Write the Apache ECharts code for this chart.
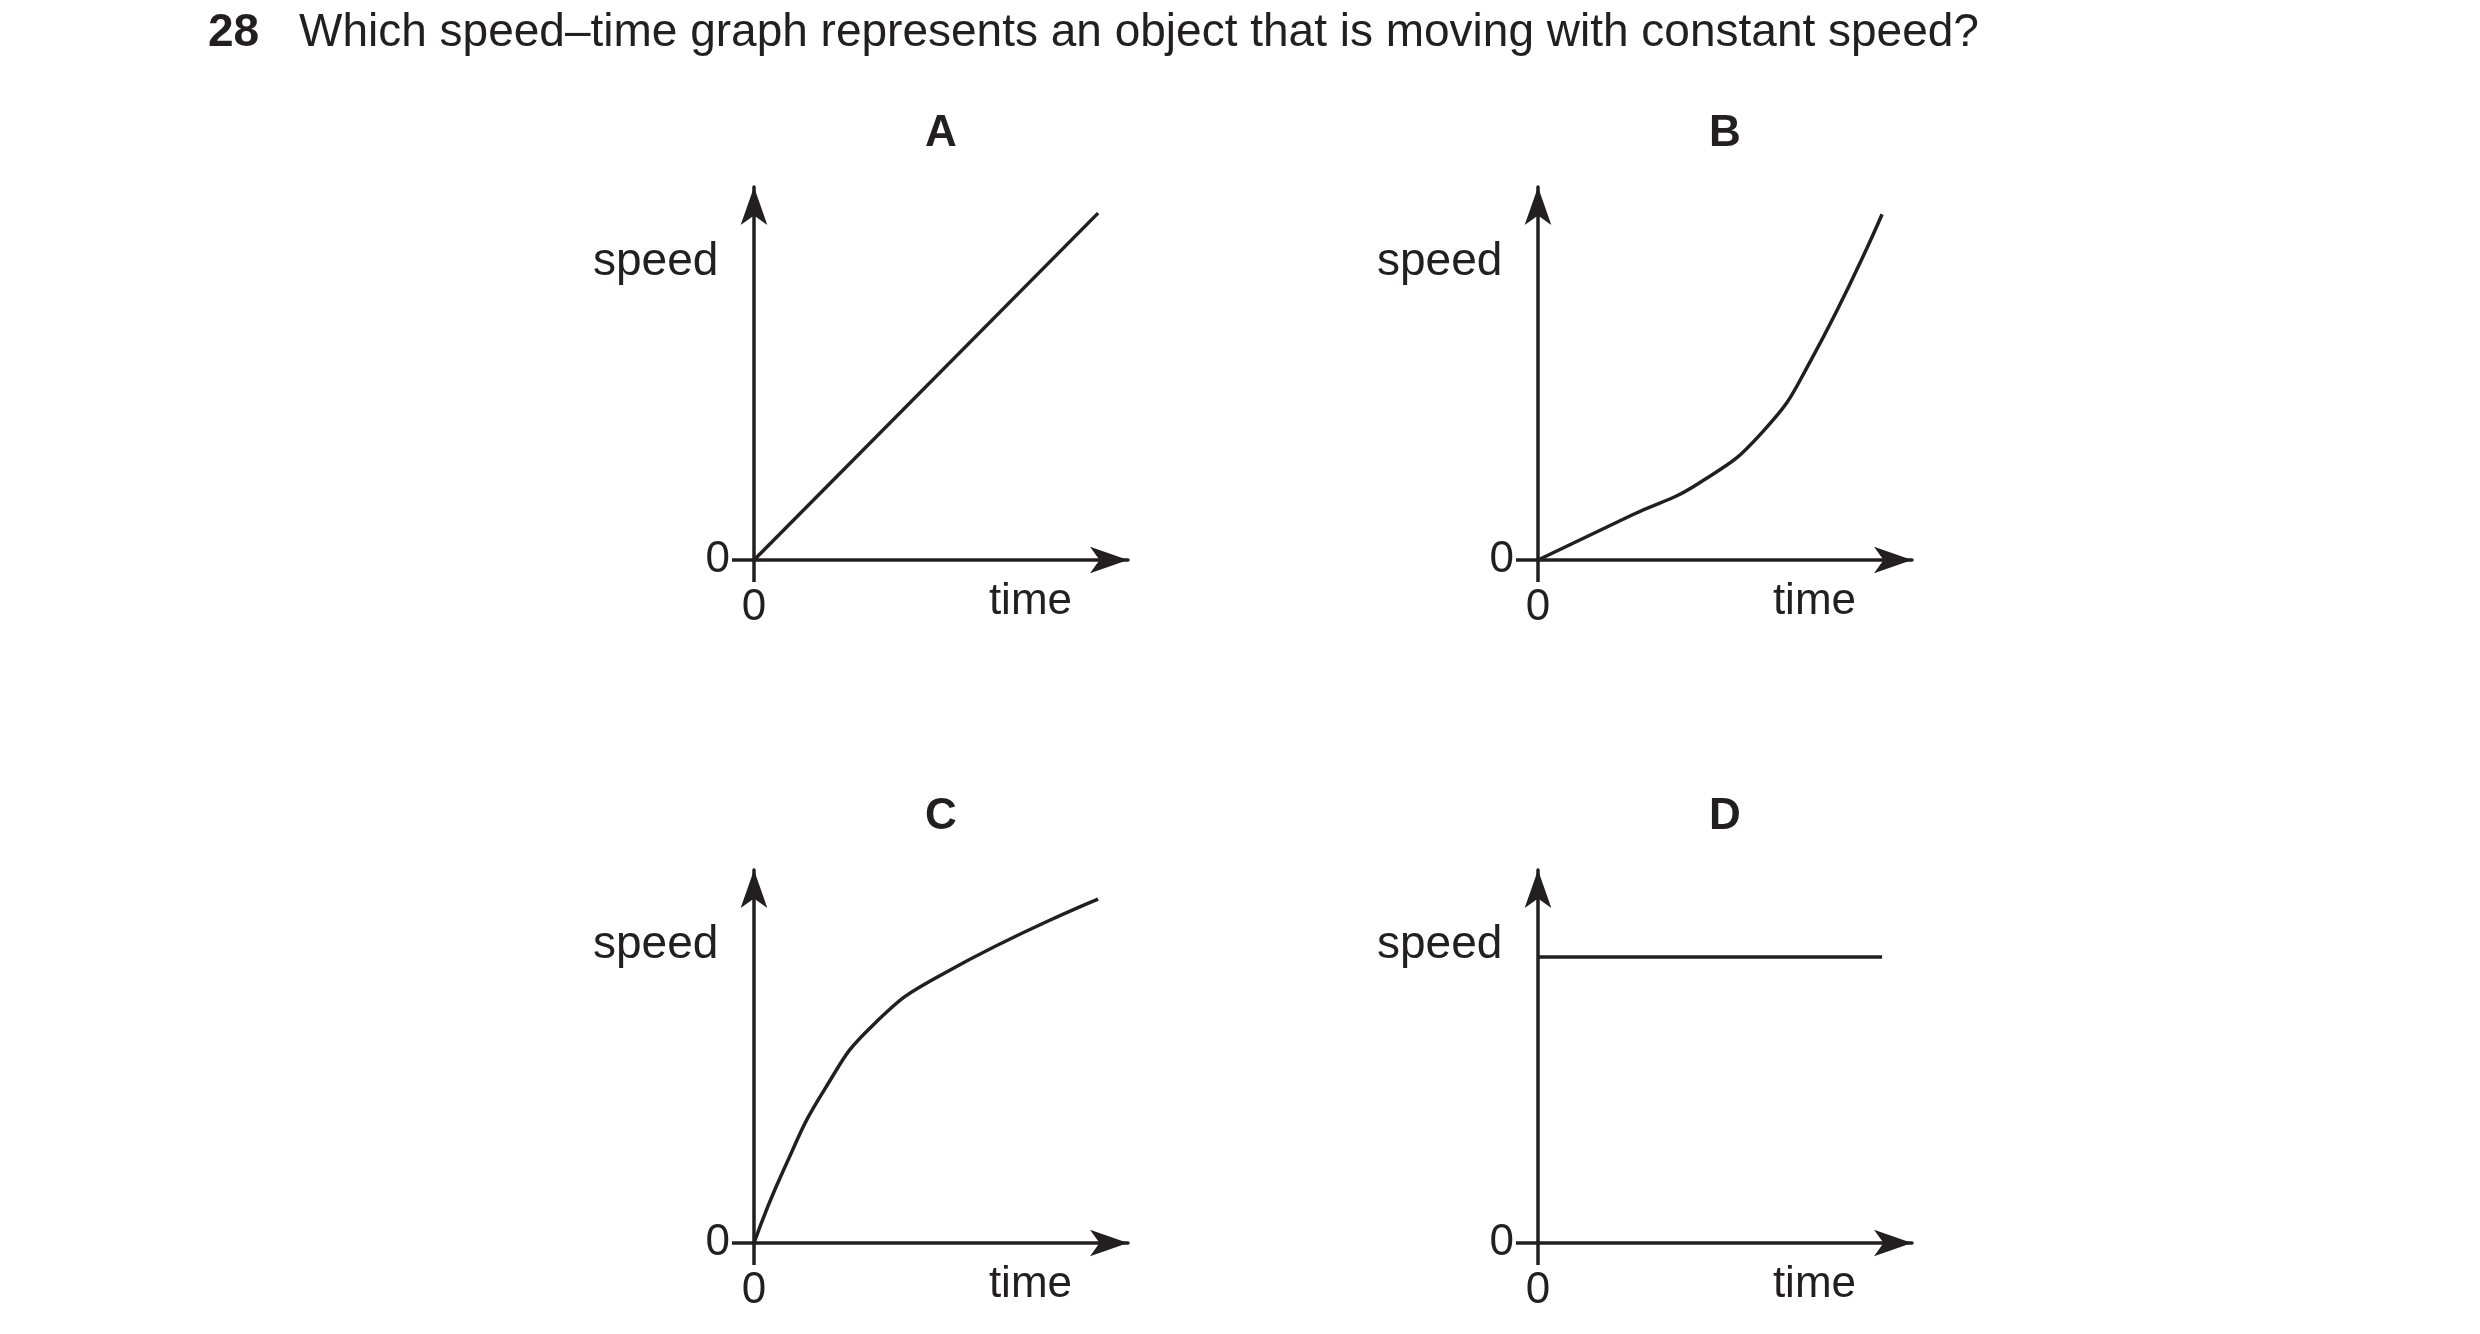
<!DOCTYPE html>
<html><head><meta charset="utf-8">
<script src="https://cdn.jsdelivr.net/npm/echarts@6/dist/echarts.min.js"></script>
<style>html,body{margin:0;background:#fff}#c{width:2480px;height:1334px}</style>
</head><body><div id="c"></div>
<script>
const panelNames = ['A', 'B', 'C', 'D'];
const dataA = [[0, 0], [9.2, 9.3]];
const dataB = [[0, 0], [2.5, 1.2], [4.3, 2.06], [6.0, 3.43], [7.3, 5.36], [9.2, 9.27]];
const dataC = [[0, 0], [0.8, 1.98], [1.9, 4.14], [3.2, 5.86], [5.1, 7.24], [9.2, 9.22]];
const dataD = [[0, 7.67], [9.2, 7.67]];
const seriesData = [dataA, dataB, dataC, dataD];
const ink = '#231f20';
const font = 'Liberation Sans, Arial, sans-serif';

const lefts = [754, 1538, 754, 1538];
const tops = [187, 187, 870, 870];
const W = 374, H = 373;

const grid = [], xAxis = [], yAxis = [], series = [], graphic = [];
panelNames.forEach((name, i) => {
  grid.push({ left: lefts[i], top: tops[i], width: W, height: H, outerBoundsMode: 'none', containLabel: false });
  const axisBase = {
    type: 'value', min: 0, max: 10, gridIndex: i, splitLine: { show: false },
    axisLine: { show: true, symbol: ['none', 'arrow'], symbolSize: [20, 38], lineStyle: { color: ink, width: 3.5 } },
    axisTick: { show: true, inside: false, customValues: [0], length: 22, lineStyle: { color: ink, width: 3.5 } },
    axisLabel: { show: true, customValues: [0], color: ink, fontSize: 44, fontFamily: font, margin: 26 }
  };
  xAxis.push(Object.assign({}, axisBase, { name: 'time', nameLocation: 'end', nameGap: 0,
    nameTextStyle: { color: ink, fontSize: 44, fontFamily: font, align: 'right', verticalAlign: 'top', padding: [20, 56, 0, 0] } }));
  yAxis.push(Object.assign({}, axisBase, { axisLabel: Object.assign({}, axisBase.axisLabel, { margin: 24 }) }));
  series.push({ type: 'line', xAxisIndex: i, yAxisIndex: i, data: seriesData[i], smooth: name === 'B' || name === 'C',
    symbol: 'none', lineStyle: { color: ink, width: 3.5 } });
  graphic.push({ type: 'text', left: lefts[i] + 171, top: tops[i] - 75,
    style: { text: name, fontSize: 44, fontWeight: 'bold', fontFamily: font, fill: ink } });
  graphic.push({ type: 'text', left: lefts[i] - 161, top: tops[i] + 52,
    style: { text: 'speed', fontSize: 46, fontFamily: font, fill: ink } });
});
graphic.push({ type: 'text', left: 208, top: 10, style: { text: '28', fontSize: 46, fontWeight: 'bold', fontFamily: font, fill: ink } });
graphic.push({ type: 'text', left: 299, top: 10, style: { text: 'Which speed–time graph represents an object that is moving with constant speed?', fontSize: 46, fontFamily: font, fill: ink } });

const myChart = echarts.init(document.getElementById('c'));
myChart.setOption({ animation: false, grid, xAxis, yAxis, series, graphic });
</script></body></html>
